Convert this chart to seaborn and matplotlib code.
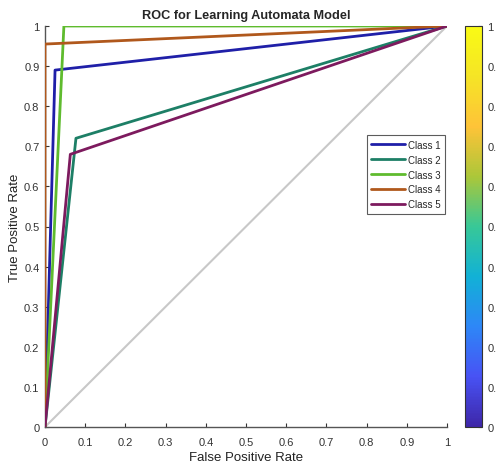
import numpy as np
import pandas as pd
import matplotlib
matplotlib.use("Agg")
import matplotlib.pyplot as plt
from matplotlib.colors import LinearSegmentedColormap
import matplotlib as mpl
import seaborn as sns

classes = ["Class 1", "Class 2", "Class 3", "Class 4", "Class 5"]
fpr = [[0, 0.025, 1], [0, 0.077, 1], [0, 0.047, 1], [0, 0.0, 1], [0, 0.063, 1]]
tpr = [[0, 0.89, 1], [0, 0.72, 1], [0, 1.0, 1], [0, 0.955, 1], [0, 0.68, 1]]
colors = ["#1f1fa8", "#1d7f66", "#5fbb2e", "#b0581c", "#7d1a5e"]
ticks = [0, 0.1, 0.2, 0.3, 0.4, 0.5, 0.6, 0.7, 0.8, 0.9, 1]
tick_labels = ["0", "0.1", "0.2", "0.3", "0.4", "0.5", "0.6", "0.7", "0.8", "0.9", "1"]

rows = []
for c, xs, ys in zip(classes, fpr, tpr):
    for i, (x, y) in enumerate(zip(xs, ys)):
        rows.append({"Class": c, "fpr": x, "tpr": y, "order": i})
df = pd.DataFrame(rows)

sns.set_style("white")
plt.rcParams["font.family"] = ["Liberation Sans", "DejaVu Sans"]

fig = plt.figure(figsize=(4.96, 4.64), dpi=100)
ax = fig.add_axes([45/496, 1-428/464, 402/496, 401/464])

ax.plot([0, 1], [0, 1], color="#c8c8c8", lw=1.5, zorder=1)
sns.lineplot(data=df, x="fpr", y="tpr", hue="Class", palette=colors,
             sort=False, estimator=None, lw=2, ax=ax, zorder=3)

ax.set_xlim(0, 1)
ax.set_ylim(0, 1)
ax.set_xticks(ticks)
ax.set_xticklabels(tick_labels)
ax.set_yticks(ticks)
ax.set_yticklabels(tick_labels)
ax.tick_params(direction="in", length=3, labelsize=8, colors="#333333",
               bottom=True, left=True, width=0.8)
ax.tick_params(axis="x", pad=7)
ax.tick_params(axis="y", pad=4)
for s in ["top", "right"]:
    ax.spines[s].set_visible(False)
for s in ["left", "bottom"]:
    ax.spines[s].set_color("#555555")
    ax.spines[s].set_linewidth(1.0)
ax.set_xlabel("False Positive Rate", fontsize=9.5, color="#222222", labelpad=3)
ax.set_ylabel("True Positive Rate", fontsize=9.5, color="#222222", labelpad=2)
ax.set_title("ROC for Learning Automata Model", fontsize=9.2, fontweight="bold", pad=6)

leg = ax.legend(loc="upper left", bbox_to_anchor=(0.80, 0.727), fontsize=7,
                frameon=True, fancybox=False, edgecolor="#333333",
                handlelength=3.5, handletextpad=0.3, borderpad=0.45,
                labelspacing=0.5, borderaxespad=0)
leg.get_frame().set_linewidth(0.8)

parula = LinearSegmentedColormap.from_list("parula", [
    (0.2422, 0.1504, 0.6603), (0.2810, 0.3228, 0.9579), (0.1786, 0.5289, 0.9682),
    (0.0689, 0.6948, 0.8394), (0.2161, 0.7843, 0.5923), (0.6720, 0.7793, 0.2227),
    (0.9970, 0.7659, 0.2199), (0.9619, 0.8949, 0.1481), (0.9769, 0.9839, 0.0805)])
cax = fig.add_axes([465/496, 1-428/464, 17/496, 401/464])
cb = mpl.colorbar.ColorbarBase(cax, cmap=parula, norm=mpl.colors.Normalize(0, 1),
                               ticks=ticks)
cb.set_ticklabels(tick_labels)
cax.tick_params(direction="in", length=3, labelsize=8, colors="#333333", pad=4)
cb.outline.set_edgecolor("#333333")
cb.outline.set_linewidth(0.8)

fig.savefig("out.png", dpi=100)
